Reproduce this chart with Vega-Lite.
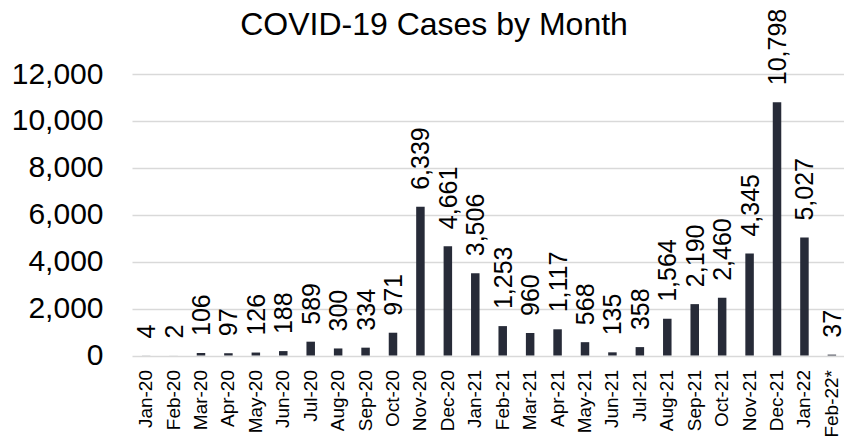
{
  "$schema": "https://vega.github.io/schema/vega-lite/v6.json",
  "autosize": {"type": "none"},
  "padding": {"left": 132, "top": 74, "right": 0, "bottom": 90},
  "width": 714,
  "height": 281.5,
  "background": "white",
  "title": {
    "text": "COVID-19 Cases by Month",
    "font": "Liberation Sans",
    "fontSize": 32,
    "fontWeight": "normal",
    "color": "#000000",
    "anchor": "middle",
    "baseline": "alphabetic",
    "dx": -55,
    "offset": 0,
    "dy": 58
  },
  "config": {
    "view": {"stroke": null},
    "font": "Liberation Sans"
  },
  "data": {
    "values": [
      {"month": "Jan-20", "cases": 4},
      {"month": "Feb-20", "cases": 2},
      {"month": "Mar-20", "cases": 106},
      {"month": "Apr-20", "cases": 97},
      {"month": "May-20", "cases": 126},
      {"month": "Jun-20", "cases": 188},
      {"month": "Jul-20", "cases": 589},
      {"month": "Aug-20", "cases": 300},
      {"month": "Sep-20", "cases": 334},
      {"month": "Oct-20", "cases": 971},
      {"month": "Nov-20", "cases": 6339},
      {"month": "Dec-20", "cases": 4661},
      {"month": "Jan-21", "cases": 3506},
      {"month": "Feb-21", "cases": 1253},
      {"month": "Mar-21", "cases": 960},
      {"month": "Apr-21", "cases": 1117},
      {"month": "May-21", "cases": 568},
      {"month": "Jun-21", "cases": 135},
      {"month": "Jul-21", "cases": 358},
      {"month": "Aug-21", "cases": 1564},
      {"month": "Sep-21", "cases": 2190},
      {"month": "Oct-21", "cases": 2460},
      {"month": "Nov-21", "cases": 4345},
      {"month": "Dec-21", "cases": 10798},
      {"month": "Jan-22", "cases": 5027},
      {"month": "Feb-22*", "cases": 37}
    ]
  },
  "encoding": {
    "x": {
      "field": "month",
      "type": "nominal",
      "sort": null,
      "scale": {"paddingInner": 0.69, "paddingOuter": 0.36},
      "axis": {
        "title": null,
        "labelAngle": -90,
        "labelFontSize": 19,
        "labelColor": "#000000",
        "labelPadding": 14,
        "ticks": false,
        "domain": false,
        "grid": false
      }
    },
    "y": {
      "field": "cases",
      "type": "quantitative",
      "scale": {"domain": [0, 12000], "nice": false},
      "axis": {
        "title": null,
        "values": [0, 2000, 4000, 6000, 8000, 10000, 12000],
        "format": ",d",
        "labelFontSize": 30,
        "labelColor": "#000000",
        "labelPadding": 29,
        "ticks": false,
        "domain": false,
        "grid": true,
        "gridColor": "#d9d9d9",
        "gridWidth": 1.5
      }
    }
  },
  "layer": [
    {
      "mark": {"type": "bar", "color": "#272b38"}
    },
    {
      "mark": {
        "type": "text",
        "angle": 270,
        "align": "left",
        "baseline": "middle",
        "dx": 17,
        "dy": 1,
        "fontSize": 25,
        "color": "#000000"
      },
      "encoding": {
        "text": {"field": "cases", "type": "quantitative", "format": ",d"}
      }
    }
  ]
}
